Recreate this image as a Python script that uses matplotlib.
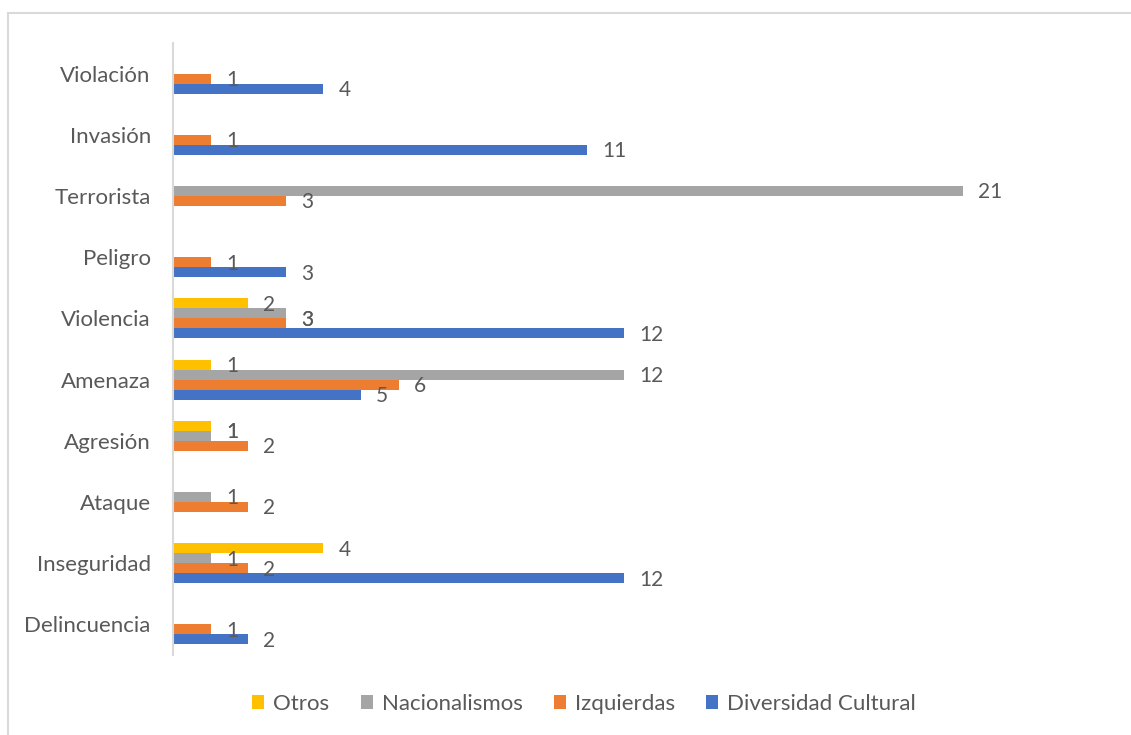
import numpy as np
import matplotlib.pyplot as plt
from matplotlib.patches import Patch, Rectangle

categorias = ['Delincuencia', 'Inseguridad', 'Ataque', 'Agresión', 'Amenaza',
              'Violencia', 'Peligro', 'Terrorista', 'Invasión', 'Violación']

series = ['Diversidad Cultural', 'Izquierdas', 'Nacionalismos', 'Otros']
diversidad = [2, 12, 0, 0, 5, 12, 3, 0, 11, 4]
izquierdas = [1, 2, 2, 2, 6, 3, 1, 3, 1, 1]
nacionalismos = [0, 1, 1, 1, 12, 3, 0, 21, 0, 0]
otros = [0, 4, 0, 1, 1, 2, 0, 0, 0, 0]

colores = ['#4472C4', '#ED7D31', '#A5A5A5', '#FFC000']
gris_txt = '#595959'

plt.rcParams['font.family'] = ['Lato', 'DejaVu Sans']

fig = plt.figure(figsize=(11.31, 7.35), dpi=100)
ax = fig.add_axes([173 / 1131, 80 / 735, 940 / 1131, 612 / 735])

y = np.arange(len(categorias))
h = 0.164
datos = [diversidad, izquierdas, nacionalismos, otros]
for k, (vals, col) in enumerate(zip(datos, colores)):
    ax.barh(y + (k - 1.5) * h, vals, height=h, color=col)

# etiquetas: si dos barras vecinas tienen el mismo valor, la etiqueta queda entre ambas
for i in range(len(categorias)):
    for k in range(4):
        v = datos[k][i]
        if v <= 0:
            continue
        p = y[i] + (k - 1.5) * h
        if k < 3 and datos[k + 1][i] == v:
            p += h / 2
        elif k > 0 and datos[k - 1][i] == v:
            p -= h / 2
        ax.annotate(str(v), xy=(v, p), xytext=(11, -1), textcoords='offset points',
                    ha='left', va='center', fontsize=15, color=gris_txt)

ax.set_xlim(0, 25)
ax.set_ylim(-0.5, len(categorias) - 0.5)
ax.set_yticks(y)
ax.set_yticklabels(categorias, fontsize=16, color=gris_txt)
ax.tick_params(axis='y', length=0, pad=16)
ax.set_xticks([])
for s in ['top', 'right', 'bottom']:
    ax.spines[s].set_visible(False)
ax.spines['left'].set_color('#D9D9D9')
ax.spines['left'].set_linewidth(1.5)

handles = [Patch(facecolor=c) for c in colores[::-1]]
fig.legend(handles, series[::-1], loc='center', bbox_to_anchor=(584 / 1131, 1 - 704 / 735),
           ncol=4, frameon=False, fontsize=16, labelcolor=gris_txt,
           handlelength=0.55, handleheight=0.55, handletextpad=0.4, columnspacing=1.4)

fig.patches.append(Rectangle((8 / 1131, -0.1), 1.2, 1 - 13 / 735 + 0.1, transform=fig.transFigure,
                             fill=False, edgecolor='#D9D9D9', linewidth=1.5))

fig.savefig('out.png', dpi=100)
